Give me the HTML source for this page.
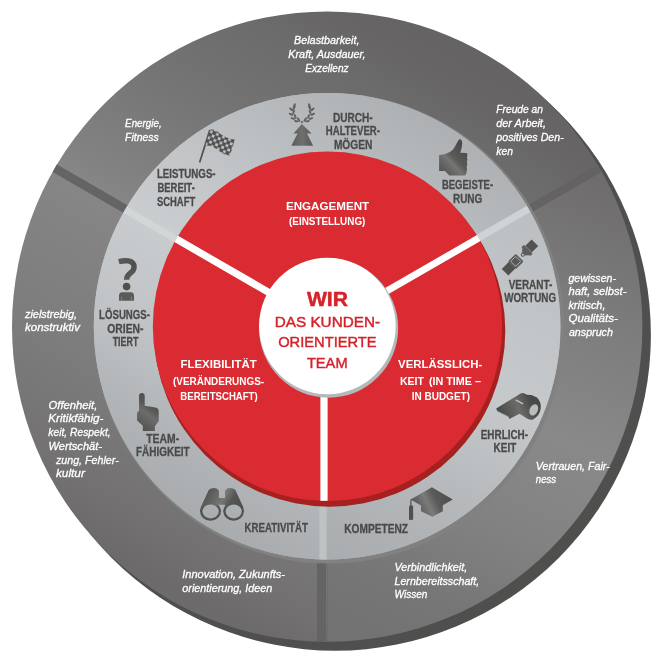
<!DOCTYPE html>
<html lang="de"><head><meta charset="utf-8"><title>Wir – das kundenorientierte Team</title>
<style>
html,body{margin:0;padding:0;background:#fff;}
body{width:663px;height:661px;overflow:hidden;font-family:"Liberation Sans",sans-serif;}
svg{display:block;will-change:transform;}
text{font-family:"Liberation Sans",sans-serif;}
</style></head><body>
<svg width="663" height="661" viewBox="0 0 663 661">
<defs>
<linearGradient id="gTop" gradientUnits="userSpaceOnUse" x1="327.2" y1="326.5" x2="477.2" y2="66.7">
<stop offset="0" stop-color="#888787"/><stop offset="0.07" stop-color="#848383"/><stop offset="0.45" stop-color="#757474"/><stop offset="0.77" stop-color="#6c6b6b"/><stop offset="0.9" stop-color="#676565"/><stop offset="1" stop-color="#656363"/></linearGradient>
<linearGradient id="gRight" gradientUnits="userSpaceOnUse" x1="600" y1="170" x2="380" y2="640">
<stop offset="0" stop-color="#6d6b6b"/><stop offset="0.27" stop-color="#7e7d7d"/><stop offset="0.5" stop-color="#8a8989"/><stop offset="0.7" stop-color="#838282"/><stop offset="0.87" stop-color="#787777"/><stop offset="1" stop-color="#737272"/></linearGradient>
<linearGradient id="gLeft" gradientUnits="userSpaceOnUse" x1="327.2" y1="326.5" x2="177.2" y2="586.3">
<stop offset="0" stop-color="#878686"/><stop offset="0.5" stop-color="#7d7c7c"/><stop offset="0.88" stop-color="#727070"/><stop offset="1" stop-color="#6c6a6a"/></linearGradient>
<linearGradient id="rTop" gradientUnits="userSpaceOnUse" x1="327.2" y1="326.5" x2="442.2" y2="127.3">
<stop offset="0" stop-color="#cbced0"/><stop offset="0.43" stop-color="#c0c3c5"/><stop offset="0.74" stop-color="#b6b9bb"/><stop offset="1" stop-color="#aeb1b3"/></linearGradient>
<linearGradient id="rRight" gradientUnits="userSpaceOnUse" x1="600" y1="170" x2="380" y2="640">
<stop offset="0" stop-color="#b8bbbd"/><stop offset="0.22" stop-color="#bfc2c4"/><stop offset="0.48" stop-color="#c6c9cb"/><stop offset="0.72" stop-color="#b4b7b9"/><stop offset="0.85" stop-color="#acafb1"/><stop offset="1" stop-color="#a8abad"/></linearGradient>
<linearGradient id="rLeft" gradientUnits="userSpaceOnUse" x1="327.2" y1="326.5" x2="212.2" y2="525.7">
<stop offset="0" stop-color="#c9ccce"/><stop offset="0.42" stop-color="#c0c3c5"/><stop offset="0.75" stop-color="#b1b4b6"/><stop offset="0.9" stop-color="#adb0b2"/><stop offset="1" stop-color="#a9acae"/></linearGradient>
<linearGradient id="gIcon" x1="0" y1="0" x2="1" y2="1">
<stop offset="0" stop-color="#4a4a49"/><stop offset="0.5" stop-color="#6a6a69"/><stop offset="1" stop-color="#4a4a49"/></linearGradient>
<clipPath id="cMain"><circle cx="327.2" cy="326.65" r="315.2"/></clipPath>
<clipPath id="cRing"><circle cx="327.1" cy="326.3" r="233.3"/></clipPath>
</defs>
<rect width="663" height="661" fill="#fff"/>

<circle cx="335.2" cy="334.95" r="315.7" fill="#4f4f4e"/>
<g clip-path="url(#cMain)">
<path d="M327.20 326.50L41.41 161.50A330 330 0 0 1 612.99 161.50Z" fill="url(#gTop)"/>
<path d="M327.20 326.50L612.99 161.50A330 330 0 0 1 327.20 656.50Z" fill="url(#gRight)"/>
<path d="M327.20 326.50L327.20 656.50A330 330 0 0 1 41.41 161.50Z" fill="url(#gLeft)"/>
<line x1="154.39" y1="225.80" x2="41.81" y2="160.80" stroke="#656364" stroke-width="8.6" />
<line x1="500.41" y1="225.70" x2="612.99" y2="160.70" stroke="#646262" stroke-width="8" />
<rect x="317" y="540" width="9" height="120" fill="#656464"/>
</g>
<circle cx="329.1" cy="328.2" r="235.2" fill="#828181"/>
<circle cx="327.1" cy="326.3" r="233.3" fill="#b4b7b9"/>
<g clip-path="url(#cRing)">
<path d="M327.20 326.50L119.35 206.50A240 240 0 0 1 535.05 206.50Z" fill="url(#rTop)"/>
<path d="M327.20 326.50L327.20 566.50A240 240 0 0 1 119.35 206.50Z" fill="url(#rLeft)"/>
<path d="M327.20 326.50L535.05 206.50A240 240 0 0 1 327.20 566.50Z" fill="url(#rRight)"/>
<line x1="197.30" y1="251.50" x2="119.35" y2="206.50" stroke="#d3d6d7" stroke-width="7" />
<line x1="457.10" y1="250.20" x2="535.05" y2="205.20" stroke="#d0d3d5" stroke-width="7" />
<rect x="319.4" y="480" width="7" height="90" fill="#bfc2c3"/>
</g>
<circle cx="329.6" cy="331.0" r="175.7" fill="#a5201e"/>
<circle cx="327.5" cy="326.3" r="174.7" fill="#d92b31"/>
<line x1="284.20" y1="301.30" x2="176.21" y2="238.95" stroke="#fff" stroke-width="7.2" />
<line x1="370.80" y1="300.30" x2="478.79" y2="237.95" stroke="#fff" stroke-width="6.9" />
<rect x="320.4" y="380" width="7.2" height="120.8" fill="#fff"/>
<circle cx="328.6" cy="328.1" r="69.6" fill="#b3b8bb"/>
<circle cx="327.4" cy="326.0" r="68.3" fill="#fff"/>
<g id="icons">
<defs>
<pattern id="chk" width="6.6" height="6.6" patternUnits="userSpaceOnUse" patternTransform="translate(210.3,129.3) rotate(23)">
<rect width="6.6" height="6.6" fill="#4f4f4e"/>
<rect x="0.5" y="0.5" width="2.8" height="2.8" fill="#bec1c3"/>
<rect x="3.8" y="3.8" width="2.8" height="2.8" fill="#bec1c3"/>
</pattern>
<linearGradient id="gThumb" gradientUnits="userSpaceOnUse" x1="441" y1="175" x2="467" y2="150">
<stop offset="0" stop-color="#4d4d4c"/><stop offset="0.45" stop-color="#757574"/><stop offset="0.6" stop-color="#5a5a59"/><stop offset="1" stop-color="#4a4a49"/></linearGradient>
<linearGradient id="gHand" gradientUnits="userSpaceOnUse" x1="137" y1="428" x2="158" y2="400">
<stop offset="0" stop-color="#4f4f4e"/><stop offset="0.5" stop-color="#6c6c6b"/><stop offset="0.7" stop-color="#575756"/><stop offset="1" stop-color="#50504f"/></linearGradient>
<linearGradient id="gCap" gradientUnits="userSpaceOnUse" x1="414" y1="510" x2="450" y2="492">
<stop offset="0" stop-color="#50504f"/><stop offset="0.38" stop-color="#7b7b7a"/><stop offset="0.6" stop-color="#5a5a59"/><stop offset="1" stop-color="#4c4c4b"/></linearGradient>
<linearGradient id="gWh" gradientUnits="userSpaceOnUse" x1="498" y1="412" x2="536" y2="396">
<stop offset="0" stop-color="#484847"/><stop offset="0.5" stop-color="#6c6c6b"/><stop offset="0.8" stop-color="#4c4c4b"/><stop offset="1" stop-color="#474746"/></linearGradient>
<linearGradient id="gBin" gradientUnits="userSpaceOnUse" x1="203" y1="492" x2="240" y2="512">
<stop offset="0" stop-color="#4e4e4d"/><stop offset="0.5" stop-color="#767675"/><stop offset="0.7" stop-color="#555554"/><stop offset="1" stop-color="#4e4e4d"/></linearGradient>
<linearGradient id="gTree" gradientUnits="userSpaceOnUse" x1="291" y1="0" x2="313" y2="0">
<stop offset="0" stop-color="#5a5a59"/><stop offset="0.5" stop-color="#6f6f6e"/><stop offset="1" stop-color="#575756"/></linearGradient>
<linearGradient id="gQ" gradientUnits="userSpaceOnUse" x1="119" y1="258" x2="136" y2="282">
<stop offset="0" stop-color="#5b5b5a"/><stop offset="0.5" stop-color="#4e4e4d"/><stop offset="1" stop-color="#666665"/></linearGradient>
</defs>

<!-- flag -->
<line x1="199.6" y1="162.5" x2="209.8" y2="129.9" stroke="#4f4f4e" stroke-width="1.7"/>
<path d="M209.8 129.9C213 129 216 130.3 219 132.8C223 136.2 229 139.3 234.9 139.6L229.9 155.4C225 155.6 221 152.6 217.5 149.6C214 146.7 210 145.2 205.4 145.4Z" fill="url(#chk)"/>

<!-- laurel + tree -->
<path d="M301.9 124.1L311.6 133.4L307 133.4L313.1 145.8L291.3 145.8L297.6 133.4L293.5 133.4Z" fill="url(#gTree)"/>
<g fill="#616160">
<g id="laurelL">
<ellipse cx="298.6" cy="119.6" rx="2.6" ry="1.05" transform="rotate(55 298.6 119.6)"/>
<ellipse cx="296.4" cy="121.2" rx="2.4" ry="1.05" transform="rotate(10 296.4 121.2)"/>
<ellipse cx="295.2" cy="116.4" rx="2.6" ry="1.05" transform="rotate(70 295.2 116.4)"/>
<ellipse cx="292.9" cy="118.4" rx="2.5" ry="1.05" transform="rotate(15 292.9 118.4)"/>
<ellipse cx="293.7" cy="112.0" rx="2.6" ry="1.05" transform="rotate(-70 293.7 112.0)"/>
<ellipse cx="291.0" cy="114.2" rx="2.6" ry="1.05" transform="rotate(25 291.0 114.2)"/>
<ellipse cx="294.0" cy="107.8" rx="2.6" ry="1.05" transform="rotate(-55 294.0 107.8)"/>
<ellipse cx="291.2" cy="109.4" rx="2.5" ry="1.05" transform="rotate(40 291.2 109.4)"/>
<ellipse cx="294.4" cy="105.4" rx="2.3" ry="1.1" transform="rotate(-65 294.4 105.4)"/>
</g>
<use href="#laurelL" transform="translate(603.8 0) scale(-1 1)"/>
<circle cx="301.9" cy="122.1" r="1.1"/>
</g>

<!-- thumbs up -->
<path d="M439.1 155.1C445 154.6 450 152.6 453 149.4C456 146 457 141.5 459.3 139.5C461 138.6 462.2 140.4 462.2 143.4C462.2 147 461 150 460.2 152.7L466 152.9Q467.6 153.1 467.4 154.8L467 157.5L467.4 159.5L466.9 162L467.3 164.5L466.7 167L467 169.5L466.4 172.7Q466 175.6 463.4 175.6L449.4 175.6L445 171.1L439.1 171.1Z" fill="url(#gThumb)"/>

<!-- seat belt -->
<g transform="translate(515.7 261.4) rotate(-45)" fill="#575656">
<rect x="-15.2" y="-4.5" width="9.8" height="9.3" fill="#515150"/>
<rect x="-5.5" y="-5.4" width="11" height="11" rx="1.4" fill="#595858"/>
<rect x="-3.55" y="-3.55" width="7.1" height="7.1" rx="0.7" fill="none" stroke="#c3c6c8" stroke-width="0.75"/>
<path d="M7.7 0.3A2.1 2.1 0 0 1 10.6 -1.6L14 -4.6L14 -5.1Q14 -6 15 -6L16.6 -6Q17.6 -6 17.6 -5L17.6 5.6Q17.6 6.6 16.6 6.6L15 6.6Q14 6.6 14 5.6L14 5.2L10.6 2.3A2.1 2.1 0 0 1 7.7 0.3Z" fill="#5e5d5d"/>
<circle cx="9.8" cy="0.4" r="0.95" fill="#c6c9cb"/>
<rect x="17.9" y="-4.3" width="8.9" height="9.3" fill="#545353"/>
<rect x="17.5" y="-4.3" width="0.5" height="9.3" fill="#6e6d6d"/>
</g>

<!-- whistle -->
<path d="M496.2 408.6L521.1 393.2Q524 392.7 527 394.8L531.5 394.9L537 397.4Q541.6 402 540.6 409Q539.6 416 533 419.4Q529 420.2 526.5 418.2L519.5 413.7L509.4 419L508.3 416.6L497.2 410.9Z" fill="url(#gWh)"/>
<ellipse cx="533.8" cy="409.9" rx="4.1" ry="5.9" transform="rotate(25 533.8 409.8)" fill="#b9bcbe"/>
<line x1="515.9" y1="400" x2="523.1" y2="403.9" stroke="#c6c9cb" stroke-width="1.4"/>
<path d="M497.3 411L508.3 416.7" stroke="#8b8b8a" stroke-width="0.6" fill="none"/>

<!-- graduation cap -->
<path d="M410.6 499.5L431.9 487.3L452.8 499.5L442.8 505.3L442.8 511.3L432.4 516.8L421 511.3L421 505.4Z" fill="url(#gCap)"/>
<line x1="410.9" y1="499.5" x2="410.9" y2="506" stroke="#555554" stroke-width="1.3"/>
<rect x="409.0" y="505.2" width="4.1" height="14.5" rx="1.6" fill="#50504f"/>
<rect x="409.0" y="512" width="4.1" height="7.7" fill="#50504f"/>

<!-- binoculars -->
<mask id="mBin" maskUnits="userSpaceOnUse" x="195" y="485" width="55" height="40">
<rect x="195" y="485" width="55" height="40" fill="#fff"/>
<ellipse cx="210.6" cy="511.4" rx="8.15" ry="7.0" fill="#000"/>
<ellipse cx="233.7" cy="511.4" rx="8.05" ry="7.0" fill="#000"/>
</mask>
<g mask="url(#mBin)">
<path d="M200.6 508L208.9 489.9Q210.6 487.6 216.4 488.4L218.8 490.7L218.8 498L225.3 498L225.3 490.7L227.7 488.4Q233.5 487.6 235.2 489.9L243.5 508L233.7 512L225.3 506L225.3 504.4L218.8 504.4L218.8 506L210.6 512Z" fill="url(#gBin)"/>
<ellipse cx="210.5" cy="511.35" rx="10.5" ry="9.35" fill="#525251"/>
<ellipse cx="233.6" cy="511.35" rx="10.35" ry="9.35" fill="#525251"/>
<path d="M200.6 508L208.9 489.9Q210.6 487.6 216.4 488.4L218.8 490.7L218.8 498L225.3 498L225.3 490.7L227.7 488.4Q233.5 487.6 235.2 489.9L243.5 508L233.7 505L225.3 506L225.3 504.4L218.8 504.4L218.8 506L210.6 505Z" fill="url(#gBin)" opacity="0.9"/>
</g>

<!-- pointing hand -->
<path d="M139 395.5Q139 392.9 141.85 392.9Q144.7 392.9 144.7 395.5L144.7 405.8L155.5 407.4Q158.7 407.9 158.7 411L158.7 421.3L154.9 426.2L154.9 431.1L142.8 431.1L142.8 425.8L137.1 420.6L137.1 413.5Q137.3 411.5 139 410.7Z" fill="url(#gHand)"/>

<!-- question mark person -->
<path d="M118.8 261.7Q124 260.2 128.4 260.9Q134.1 262 134.1 267Q134.1 270.5 130.5 273Q126.6 275.8 126.6 279.8" fill="none" stroke="url(#gQ)" stroke-width="5.4"/>
<circle cx="126.6" cy="286.6" r="3.8" fill="#50504f"/>
<path d="M119 300.8L119 295.6Q119 292.2 122.6 292.2L130.6 292.2Q134 292.2 134 295.6L134 300.8Z" fill="#5a5a59"/>
<path d="M121.6 300.8V296.8M131.4 300.8V296.8" stroke="#9a9c9d" stroke-width="0.6"/>
</g>

<g>
<text x="294.0" y="43.5" textLength="65.5" lengthAdjust="spacingAndGlyphs" font-size="10.9" font-weight="normal" font-style="italic" fill="#fff" stroke="#fff" stroke-width="0.3">Belastbarkeit,</text>
<text x="288.3" y="57.6" textLength="77.2" lengthAdjust="spacingAndGlyphs" font-size="10.9" font-weight="normal" font-style="italic" fill="#fff" stroke="#fff" stroke-width="0.3">Kraft, Ausdauer,</text>
<text x="305.3" y="71.5" textLength="43.3" lengthAdjust="spacingAndGlyphs" font-size="10.9" font-weight="normal" font-style="italic" fill="#fff" stroke="#fff" stroke-width="0.3">Exzellenz</text>
<text x="125.1" y="126.9" textLength="36.6" lengthAdjust="spacingAndGlyphs" font-size="10.9" font-weight="normal" font-style="italic" fill="#fff" stroke="#fff" stroke-width="0.3">Energie,</text>
<text x="125.1" y="140.7" textLength="33.5" lengthAdjust="spacingAndGlyphs" font-size="10.9" font-weight="normal" font-style="italic" fill="#fff" stroke="#fff" stroke-width="0.3">Fitness</text>
<text x="496.3" y="113.4" textLength="46.7" lengthAdjust="spacingAndGlyphs" font-size="10.9" font-weight="normal" font-style="italic" fill="#fff" stroke="#fff" stroke-width="0.3">Freude an</text>
<text x="496.3" y="127.1" textLength="49.6" lengthAdjust="spacingAndGlyphs" font-size="10.9" font-weight="normal" font-style="italic" fill="#fff" stroke="#fff" stroke-width="0.3">der Arbeit,</text>
<text x="496.3" y="140.8" textLength="67.4" lengthAdjust="spacingAndGlyphs" font-size="10.9" font-weight="normal" font-style="italic" fill="#fff" stroke="#fff" stroke-width="0.3">positives Den-</text>
<text x="496.3" y="154.6" textLength="16.6" lengthAdjust="spacingAndGlyphs" font-size="10.9" font-weight="normal" font-style="italic" fill="#fff" stroke="#fff" stroke-width="0.3">ken</text>
<text x="568.4" y="281.6" textLength="47.5" lengthAdjust="spacingAndGlyphs" font-size="10.9" font-weight="normal" font-style="italic" fill="#fff" stroke="#fff" stroke-width="0.3">gewissen-</text>
<text x="568.4" y="295.1" textLength="58.1" lengthAdjust="spacingAndGlyphs" font-size="10.9" font-weight="normal" font-style="italic" fill="#fff" stroke="#fff" stroke-width="0.3">haft, selbst-</text>
<text x="568.4" y="308.7" textLength="37.1" lengthAdjust="spacingAndGlyphs" font-size="10.9" font-weight="normal" font-style="italic" fill="#fff" stroke="#fff" stroke-width="0.3">kritisch,</text>
<text x="568.4" y="322.4" textLength="49.5" lengthAdjust="spacingAndGlyphs" font-size="10.9" font-weight="normal" font-style="italic" fill="#fff" stroke="#fff" stroke-width="0.3">Qualitäts-</text>
<text x="568.9" y="335.6" textLength="44.0" lengthAdjust="spacingAndGlyphs" font-size="10.9" font-weight="normal" font-style="italic" fill="#fff" stroke="#fff" stroke-width="0.3">anspruch</text>
<text x="535.8" y="469.6" textLength="73.9" lengthAdjust="spacingAndGlyphs" font-size="10.9" font-weight="normal" font-style="italic" fill="#fff" stroke="#fff" stroke-width="0.3">Vertrauen, Fair-</text>
<text x="535.8" y="483.4" textLength="20.4" lengthAdjust="spacingAndGlyphs" font-size="10.9" font-weight="normal" font-style="italic" fill="#fff" stroke="#fff" stroke-width="0.3">ness</text>
<text x="394.5" y="570.8" textLength="72.7" lengthAdjust="spacingAndGlyphs" font-size="10.9" font-weight="normal" font-style="italic" fill="#fff" stroke="#fff" stroke-width="0.3">Verbindlichkeit,</text>
<text x="394.5" y="584.6" textLength="84.7" lengthAdjust="spacingAndGlyphs" font-size="10.9" font-weight="normal" font-style="italic" fill="#fff" stroke="#fff" stroke-width="0.3">Lernbereitsschaft,</text>
<text x="394.5" y="598.2" textLength="32.9" lengthAdjust="spacingAndGlyphs" font-size="10.9" font-weight="normal" font-style="italic" fill="#fff" stroke="#fff" stroke-width="0.3">Wissen</text>
<text x="182.3" y="578.0" textLength="102.6" lengthAdjust="spacingAndGlyphs" font-size="10.9" font-weight="normal" font-style="italic" fill="#fff" stroke="#fff" stroke-width="0.3">Innovation, Zukunfts-</text>
<text x="182.3" y="591.7" textLength="90.0" lengthAdjust="spacingAndGlyphs" font-size="10.9" font-weight="normal" font-style="italic" fill="#fff" stroke="#fff" stroke-width="0.3">orientierung, Ideen</text>
<text x="48.6" y="408.5" textLength="48.7" lengthAdjust="spacingAndGlyphs" font-size="10.9" font-weight="normal" font-style="italic" fill="#fff" stroke="#fff" stroke-width="0.3">Offenheit,</text>
<text x="48.3" y="422.4" textLength="55.1" lengthAdjust="spacingAndGlyphs" font-size="10.9" font-weight="normal" font-style="italic" fill="#fff" stroke="#fff" stroke-width="0.3">Kritikfähig-</text>
<text x="48.3" y="436.1" textLength="62.3" lengthAdjust="spacingAndGlyphs" font-size="10.9" font-weight="normal" font-style="italic" fill="#fff" stroke="#fff" stroke-width="0.3">keit, Respekt,</text>
<text x="48.6" y="449.7" textLength="53.4" lengthAdjust="spacingAndGlyphs" font-size="10.9" font-weight="normal" font-style="italic" fill="#fff" stroke="#fff" stroke-width="0.3">Wertschät-</text>
<text x="55.9" y="463.6" textLength="62.8" lengthAdjust="spacingAndGlyphs" font-size="10.9" font-weight="normal" font-style="italic" fill="#fff" stroke="#fff" stroke-width="0.3">zung, Fehler-</text>
<text x="55.9" y="477.4" textLength="29.0" lengthAdjust="spacingAndGlyphs" font-size="10.9" font-weight="normal" font-style="italic" fill="#fff" stroke="#fff" stroke-width="0.3">kultur</text>
<text x="25.0" y="317.7" textLength="52.1" lengthAdjust="spacingAndGlyphs" font-size="10.9" font-weight="normal" font-style="italic" fill="#fff" stroke="#fff" stroke-width="0.3">zielstrebig,</text>
<text x="25.0" y="331.4" textLength="54.9" lengthAdjust="spacingAndGlyphs" font-size="10.9" font-weight="normal" font-style="italic" fill="#fff" stroke="#fff" stroke-width="0.3">konstruktiv</text>
<text x="156.9" y="177.9" textLength="58.7" lengthAdjust="spacingAndGlyphs" font-size="12.2" font-weight="bold" font-style="normal" fill="#4b4a4a" stroke="#4b4a4a" stroke-width="0.3">LEISTUNGS-</text>
<text x="157.4" y="191.9" textLength="37.4" lengthAdjust="spacingAndGlyphs" font-size="12.2" font-weight="bold" font-style="normal" fill="#4b4a4a" stroke="#4b4a4a" stroke-width="0.3">BEREIT-</text>
<text x="156.9" y="205.8" textLength="38.3" lengthAdjust="spacingAndGlyphs" font-size="12.2" font-weight="bold" font-style="normal" fill="#4b4a4a" stroke="#4b4a4a" stroke-width="0.3">SCHAFT</text>
<text x="333.0" y="121.7" textLength="39.7" lengthAdjust="spacingAndGlyphs" font-size="12.2" font-weight="bold" font-style="normal" fill="#4b4a4a" stroke="#4b4a4a" stroke-width="0.3">DURCH-</text>
<text x="325.8" y="135.2" textLength="54.1" lengthAdjust="spacingAndGlyphs" font-size="12.2" font-weight="bold" font-style="normal" fill="#4b4a4a" stroke="#4b4a4a" stroke-width="0.3">HALTEVER-</text>
<text x="333.9" y="148.8" textLength="38.4" lengthAdjust="spacingAndGlyphs" font-size="12.2" font-weight="bold" font-style="normal" fill="#4b4a4a" stroke="#4b4a4a" stroke-width="0.3">MÖGEN</text>
<text x="441.9" y="188.8" textLength="51.2" lengthAdjust="spacingAndGlyphs" font-size="12.2" font-weight="bold" font-style="normal" fill="#4b4a4a" stroke="#4b4a4a" stroke-width="0.3">BEGEISTE-</text>
<text x="453.0" y="202.5" textLength="29.3" lengthAdjust="spacingAndGlyphs" font-size="12.2" font-weight="bold" font-style="normal" fill="#4b4a4a" stroke="#4b4a4a" stroke-width="0.3">RUNG</text>
<text x="508.7" y="288.5" textLength="43.6" lengthAdjust="spacingAndGlyphs" font-size="12.2" font-weight="bold" font-style="normal" fill="#4b4a4a" stroke="#4b4a4a" stroke-width="0.3">VERANT-</text>
<text x="504.2" y="302.2" textLength="51.9" lengthAdjust="spacingAndGlyphs" font-size="12.2" font-weight="bold" font-style="normal" fill="#4b4a4a" stroke="#4b4a4a" stroke-width="0.3">WORTUNG</text>
<text x="480.7" y="438.7" textLength="47.4" lengthAdjust="spacingAndGlyphs" font-size="12.2" font-weight="bold" font-style="normal" fill="#4b4a4a" stroke="#4b4a4a" stroke-width="0.3">EHRLICH-</text>
<text x="493.6" y="451.8" textLength="22.6" lengthAdjust="spacingAndGlyphs" font-size="12.2" font-weight="bold" font-style="normal" fill="#4b4a4a" stroke="#4b4a4a" stroke-width="0.3">KEIT</text>
<text x="344.3" y="532.7" textLength="63.7" lengthAdjust="spacingAndGlyphs" font-size="12.2" font-weight="bold" font-style="normal" fill="#4b4a4a" stroke="#4b4a4a" stroke-width="0.3">KOMPETENZ</text>
<text x="244.5" y="532.4" textLength="63.5" lengthAdjust="spacingAndGlyphs" font-size="12.2" font-weight="bold" font-style="normal" fill="#4b4a4a" stroke="#4b4a4a" stroke-width="0.3">KREATIVITÄT</text>
<text x="146.3" y="442.5" textLength="32.8" lengthAdjust="spacingAndGlyphs" font-size="12.2" font-weight="bold" font-style="normal" fill="#4b4a4a" stroke="#4b4a4a" stroke-width="0.3">TEAM-</text>
<text x="136.0" y="456.1" textLength="53.7" lengthAdjust="spacingAndGlyphs" font-size="12.2" font-weight="bold" font-style="normal" fill="#4b4a4a" stroke="#4b4a4a" stroke-width="0.3">FÄHIGKEIT</text>
<text x="99.1" y="319.0" textLength="50.8" lengthAdjust="spacingAndGlyphs" font-size="12.2" font-weight="bold" font-style="normal" fill="#4b4a4a" stroke="#4b4a4a" stroke-width="0.3">LÖSUNGS-</text>
<text x="107.2" y="332.6" textLength="36.3" lengthAdjust="spacingAndGlyphs" font-size="12.2" font-weight="bold" font-style="normal" fill="#4b4a4a" stroke="#4b4a4a" stroke-width="0.3">ORIEN-</text>
<text x="112.7" y="346.2" textLength="25.7" lengthAdjust="spacingAndGlyphs" font-size="12.2" font-weight="bold" font-style="normal" fill="#4b4a4a" stroke="#4b4a4a" stroke-width="0.3">TIERT</text>
<text x="285.9" y="209.5" textLength="83.3" lengthAdjust="spacingAndGlyphs" font-size="11.6" font-weight="bold" font-style="normal" fill="#fff" >ENGAGEMENT</text>
<text x="289.0" y="225.2" textLength="76.4" lengthAdjust="spacingAndGlyphs" font-size="10.4" font-weight="bold" font-style="normal" fill="#fff" >(EINSTELLUNG)</text>
<text x="180.5" y="367.7" textLength="76.3" lengthAdjust="spacingAndGlyphs" font-size="11.6" font-weight="bold" font-style="normal" fill="#fff" >FLEXIBILITÄT</text>
<text x="173.0" y="384.5" textLength="91.1" lengthAdjust="spacingAndGlyphs" font-size="10.4" font-weight="bold" font-style="normal" fill="#fff" >(VERÄNDERUNGS-</text>
<text x="180.3" y="400.2" textLength="77.4" lengthAdjust="spacingAndGlyphs" font-size="10.4" font-weight="bold" font-style="normal" fill="#fff" >BEREITSCHAFT)</text>
<text x="398.1" y="368.0" textLength="84.2" lengthAdjust="spacingAndGlyphs" font-size="11.6" font-weight="bold" font-style="normal" fill="#fff" >VERLÄSSLICH-</text>
<text x="399.9" y="384.5" textLength="24.1" lengthAdjust="spacingAndGlyphs" font-size="11.6" font-weight="bold" font-style="normal" fill="#fff" >KEIT</text>
<text x="428.9" y="384.5" textLength="52.1" lengthAdjust="spacingAndGlyphs" font-size="10.4" font-weight="bold" font-style="normal" fill="#fff" >(IN TIME –</text>
<text x="411.7" y="400.2" textLength="58.3" lengthAdjust="spacingAndGlyphs" font-size="10.4" font-weight="bold" font-style="normal" fill="#fff" >IN BUDGET)</text>
<text x="306.9" y="306.4" textLength="41.1" lengthAdjust="spacingAndGlyphs" font-size="19.6" font-weight="bold" font-style="normal" fill="#d5232b" stroke="#d5232b" stroke-width="0.45">WIR</text>
<text x="274.8" y="326.6" textLength="105.2" lengthAdjust="spacingAndGlyphs" font-size="15.5" font-weight="normal" font-style="normal" fill="#d5232b" stroke="#d5232b" stroke-width="0.45">DAS KUNDEN-</text>
<text x="278.2" y="347.3" textLength="98.4" lengthAdjust="spacingAndGlyphs" font-size="15.5" font-weight="normal" font-style="normal" fill="#d5232b" stroke="#d5232b" stroke-width="0.45">ORIENTIERTE</text>
<text x="306.9" y="368.0" textLength="40.7" lengthAdjust="spacingAndGlyphs" font-size="15.5" font-weight="normal" font-style="normal" fill="#d5232b" stroke="#d5232b" stroke-width="0.45">TEAM</text>
</g>
</svg></body></html>
